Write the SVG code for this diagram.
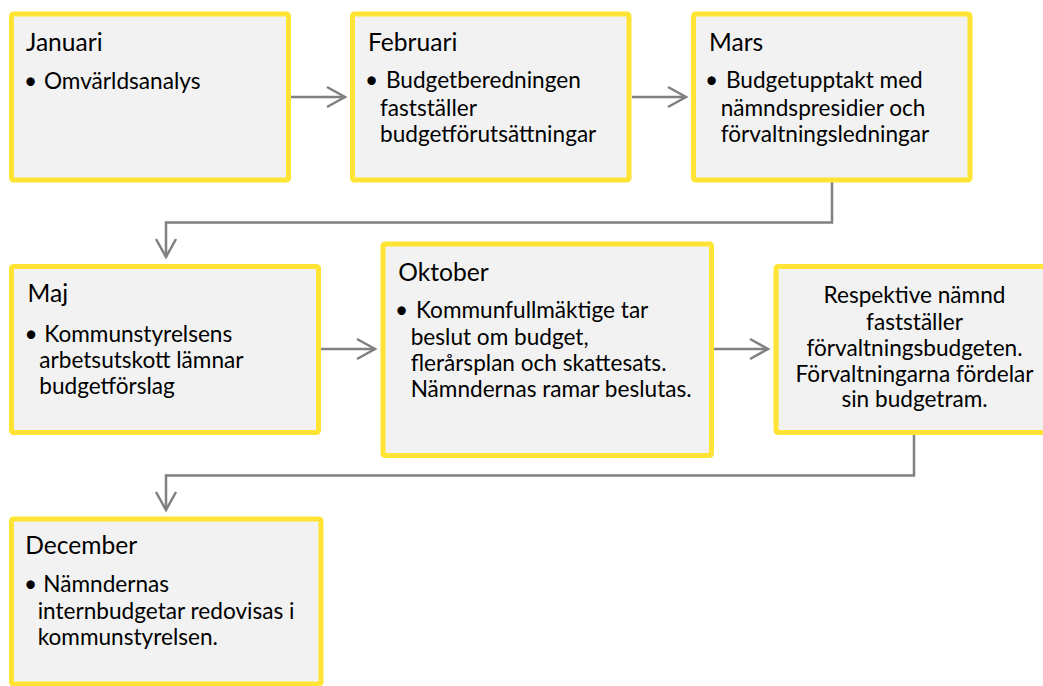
<svg xmlns="http://www.w3.org/2000/svg" width="1043" height="686" viewBox="0 0 1043 686">
<style>
.box{fill:#F2F2F2;stroke:#FFE433;stroke-width:5}
.t{font-family:Lato,"Open Sans",sans-serif;font-size:24.6px;fill:#000}
.b{font-family:Lato,"Open Sans",sans-serif;font-size:22.6px;fill:#000}
.c{text-anchor:middle}
.conn{fill:none;stroke:#808080;stroke-width:2.5}
</style>
<defs>
<marker id="arr" viewBox="0 0 24 24" markerWidth="24" markerHeight="24" refX="21" refY="12" orient="auto" markerUnits="userSpaceOnUse">
<path d="M3,2 L21,12 L3,22" fill="none" stroke="#808080" stroke-width="2.5"/>
</marker>
</defs>
<rect width="1043" height="686" fill="#fff"/>
<g id="connectors">
<path class="conn" d="M291,97 H345" marker-end="url(#arr)"/>
<path class="conn" d="M632,97 H686" marker-end="url(#arr)"/>
<path class="conn" d="M832,182 V222.5 H166 V257" marker-end="url(#arr)"/>
<path class="conn" d="M321,349 H375" marker-end="url(#arr)"/>
<path class="conn" d="M714,349 H768" marker-end="url(#arr)"/>
<path class="conn" d="M914,434 V475.5 H166 V510" marker-end="url(#arr)"/>
</g>
<g id="januari">
<rect class="box" x="11.5" y="14" width="277" height="166" rx="2"/>
<text class="t" x="26" y="51">Januari</text>
<text class="b" x="24" y="89">•</text>
<text class="b" x="44" y="89">Omvärldsanalys</text>
</g>
<g id="februari">
<rect class="box" x="352.5" y="14" width="276.5" height="166" rx="2"/>
<text class="t" x="368" y="51">Februari</text>
<text class="b" x="365" y="88">•</text>
<text class="b" x="386" y="88">Budgetberedningen</text>
<text class="b" x="380" y="115.5">fastställer</text>
<text class="b" x="380" y="141.7">budgetförutsättningar</text>
</g>
<g id="mars">
<rect class="box" x="693.5" y="14" width="276.5" height="166" rx="2"/>
<text class="t" x="709" y="51">Mars</text>
<text class="b" x="705" y="88">•</text>
<text class="b" x="726" y="88">Budgetupptakt med</text>
<text class="b" x="720.7" y="115.5">nämndspresidier och</text>
<text class="b" x="720.7" y="141.7">förvaltningsledningar</text>
</g>
<g id="maj">
<rect class="box" x="11.5" y="266.5" width="307" height="166" rx="2"/>
<text class="t" x="27.5" y="301.7">Maj</text>
<text class="b" x="24.5" y="341.7">•</text>
<text class="b" x="44.3" y="341.7">Kommunstyrelsens</text>
<text class="b" x="39.3" y="367.7">arbetsutskott lämnar</text>
<text class="b" x="39.3" y="394.3">budgetförslag</text>
</g>
<g id="oktober">
<rect class="box" x="383" y="244" width="328.5" height="211.5" rx="2"/>
<text class="t" x="398.3" y="280.7">Oktober</text>
<text class="b" x="395" y="318.3">•</text>
<text class="b" x="416" y="318.3">Kommunfullmäktige tar</text>
<text class="b" x="410.7" y="345">beslut om budget,</text>
<text class="b" x="410.7" y="371">flerårsplan och skattesats.</text>
<text class="b" x="410.7" y="397.3">Nämndernas ramar beslutas.</text>
</g>
<g id="respektive">
<rect class="box" x="776" y="266.5" width="277" height="166" rx="2"/>
<text class="b c" x="914.5" y="303.3">Respektive nämnd</text>
<text class="b c" x="914.5" y="330">fastställer</text>
<text class="b c" x="914.5" y="355.7">förvaltningsbudgeten.</text>
<text class="b c" x="914.5" y="381.7">Förvaltningarna fördelar</text>
<text class="b c" x="914.5" y="407.3">sin budgetram.</text>
</g>
<g id="december">
<rect class="box" x="11.5" y="519" width="309.5" height="165" rx="2"/>
<text class="t" x="25.3" y="554">December</text>
<text class="b" x="24" y="592.3">•</text>
<text class="b" x="43.3" y="592.3">Nämndernas</text>
<text class="b" x="37.7" y="619.3">internbudgetar redovisas i</text>
<text class="b" x="37.7" y="645">kommunstyrelsen.</text>
</g>
</svg>
